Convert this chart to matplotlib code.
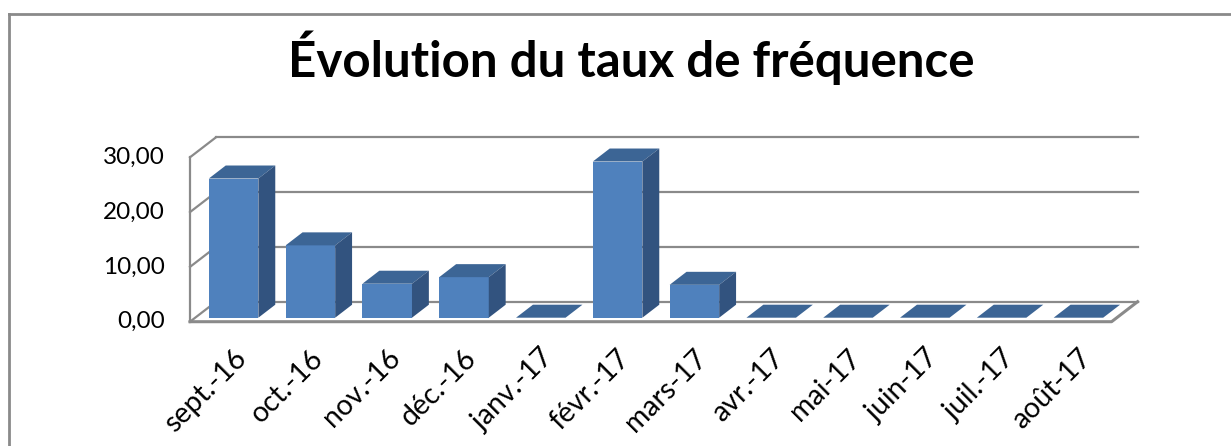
import numpy as np
import matplotlib
matplotlib.use("Agg")
import matplotlib.pyplot as plt
from matplotlib.patches import Polygon
from matplotlib.lines import Line2D

# data
months = ["sept.-16", "oct.-16", "nov.-16", "déc.-16", "janv.-17", "févr.-17",
          "mars-17", "avr.-17", "mai-17", "juin-17", "juil.-17", "août-17"]
taux = [25.4, 13.2, 6.2, 7.4, 0.0, 28.5, 6.0, 0.0, 0.0, 0.0, 0.0, 0.0]
yticks = [0, 10, 20, 30]
ytick_labels = ["0,00", "10,00", "20,00", "30,00"]
title = "Évolution du taux de fréquence"

W, H = 1231, 446
fig = plt.figure(figsize=(W / 100, H / 100), dpi=100)
ax = fig.add_axes([0, 0, 1, 1])

# pixel geometry of the fake 3d box
px_cat = 76.8      # px per category
px_val = 5.48      # px per value unit
x0_px, y0_px = 190, 321.7
ax.set_xlim(-0.5 - x0_px / px_cat, -0.5 + (W - x0_px) / px_cat)
ax.set_ylim(-(H - y0_px) / px_val, y0_px / px_val)
ax.axis("off")

Dx, Dy = 26 / px_cat, 20 / px_val   # full depth of the box
f0, f1 = 0.2, 0.85                  # depth of bar front / back
bw = 0.645
n = len(months)
x = np.arange(n)
grey = "#8a8a8a"
lw = 1.6

# back wall grid + left wall
for v in yticks:
    ax.plot([-0.5 + Dx, n - 0.5 + Dx], [v + Dy, v + Dy], color=grey, lw=lw, zorder=1)
    ax.plot([-0.5, -0.5 + Dx], [v, v + Dy], color=grey, lw=lw, zorder=1)
ax.plot([-0.5, -0.5], [0, yticks[-1]], color=grey, lw=lw, zorder=1)
# floor
ax.plot([-0.5, n - 0.5, n - 0.5 + Dx], [0, 0, Dy], color=grey, lw=2.2, zorder=1)

# bars
front_col, top_col, side_col = "#4F81BD", "#3C6595", "#32537F"
xs = x + f0 * Dx
ax.bar(xs, taux, width=bw, bottom=f0 * Dy, color=front_col, zorder=3)
d = f1 - f0
for xi, v in zip(xs, taux):
    l, r = xi - bw / 2, xi + bw / 2
    yb = f0 * Dy
    top = Polygon([(l, v + yb), (r, v + yb), (r + d * Dx, v + yb + d * Dy),
                   (l + d * Dx, v + yb + d * Dy)], closed=True, fc=top_col, ec="none", zorder=3)
    ax.add_patch(top)
    if v > 0:
        side = Polygon([(r, yb), (r, v + yb), (r + d * Dx, v + yb + d * Dy),
                        (r + d * Dx, yb + d * Dy)], closed=True, fc=side_col, ec="none", zorder=3)
        ax.add_patch(side)

# tick labels
for v, s in zip(yticks, ytick_labels):
    ax.text(-0.5 - 25 / px_cat, v, s, ha="right", va="center",
            fontsize=17.5, family="Lato", color="black")
for xi, s in zip(x, months):
    ax.text(xi + 0.06, -23 / px_val, s, rotation=45, ha="right", va="top",
            rotation_mode="anchor", fontsize=20.5, family="Lato", color="black")

fig.text(631 / W, 1 - 77 / H, title, ha="center", va="baseline",
         fontsize=35.5, fontweight="bold", family="Lato")

# chart frame (cropped on the right / bottom)
fx, fy = 8.5 / W, 1 - 14 / H
fig.add_artist(Line2D([fx, fx], [0, fy], color=grey, lw=2, transform=fig.transFigure))
fig.add_artist(Line2D([fx, 1], [fy, fy], color=grey, lw=2, transform=fig.transFigure))

fig.savefig("out.png", dpi=100)
